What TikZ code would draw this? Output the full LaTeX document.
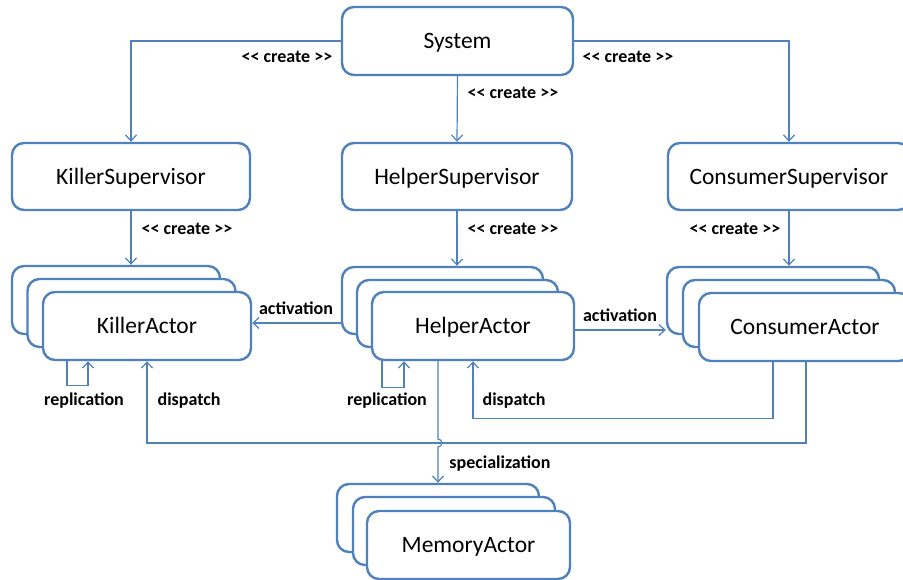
\documentclass[tikz,border=0pt]{standalone}
\usepackage{fontspec}
\setmainfont{Carlito}
\usetikzlibrary{arrows.meta,calc}
\definecolor{edge}{HTML}{4F81BD}
\newcommand{\createlbl}{<\kern0pt< create >\kern0pt>}

\begin{document}
\begin{tikzpicture}[x=1pt,y=-1pt,
  box/.style={draw=edge, line width=2.4pt, fill=white, rounded corners=12pt,
    inner sep=0pt, text height=15pt, text depth=0pt,
    font=\fontsize{23.5}{28}\selectfont},
  conn/.style={draw=edge, line width=1.2pt, line join=miter,
    -{Straight Barb[length=6pt,width=11pt,line width=1.2pt]}},
  lbl/.style={font=\fontsize{18}{21}\selectfont\bfseries, inner sep=0pt}]
\useasboundingbox (0,0) rectangle (903,579);

% top level
\node[box, minimum width=231pt, minimum height=68pt] (sys) at (457.5,41) {System};

% supervisors
\node[box, minimum width=238pt, minimum height=67pt] (ks) at (131,176.5) {KillerSupervisor};
\node[box, minimum width=230pt, minimum height=67pt] (hs) at (457,176.5) {HelperSupervisor};
\node[box, minimum width=242pt, minimum height=67pt] (cs) at (789,176.5) {ConsumerSupervisor};

% killer actors
\node[box, minimum width=208pt, minimum height=68pt] (kb) at (116,300) {};
\node[box, minimum width=208pt, minimum height=68pt] (km) at (131.5,313) {};
\node[box, minimum width=208pt, minimum height=68pt] (kf) at (147,326) {KillerActor};

% helper actors
\node[box, minimum width=201pt, minimum height=67pt] (hb) at (442.5,300.5) {};
\node[box, minimum width=201pt, minimum height=67pt] (hm) at (457.5,313.5) {};
\node[box, minimum width=202pt, minimum height=68pt] (hf) at (473,326) {HelperActor};

% consumer actors
\node[box, minimum width=212pt, minimum height=67pt] (cb) at (773,300.5) {};
\node[box, minimum width=212pt, minimum height=67pt] (cm) at (789,313.5) {};
\node[box, minimum width=212pt, minimum height=68pt] (cf) at (805,327) {ConsumerActor};

% memory actors
\node[box, minimum width=202pt, minimum height=68pt] (mb) at (438,518) {};
\node[box, minimum width=202pt, minimum height=68pt] (mm) at (454,531) {};
\node[box, minimum width=203pt, minimum height=68pt] (mf) at (468.5,545) {MemoryActor};

% creation
\draw[conn] (sys.west) -| (ks.north);
\draw[conn] (sys.east) -| (cs.north);
\draw[conn] (sys.south) -- (hs.north);
\draw[conn] (ks.south) -- (ks.south |- kb.north);
\draw[conn] (hs.south) -- (hs.south |- hb.north);
\draw[conn] (cs.south) -- (cs.south |- cb.north);

% activation
\coordinate (actL) at (0,323);
\coordinate (actR) at (0,330);
\draw[conn] (hb.west |- actL) -- (kf.east |- actL);
\draw[conn] (hf.east |- actR) -- (cb.west |- actR);

% replication
\draw[conn] ([xshift=-80pt]kf.south) -- ++(0,24) -| ([xshift=-59pt]kf.south);
\draw[conn] ([xshift=-91pt]hf.south) -- ++(0,26) -| ([xshift=-69pt]hf.south);

% dispatch
\coordinate (bus) at (0,443);
\draw[conn] ([xshift=1pt]cf.south) -- ([xshift=1pt]cf.south |- bus) -| (kf.south);
\draw[conn] ([xshift=-32pt]cf.south) -- ++(0,56) -| (hf.south);

% specialization, hopping over the dispatch bus
\coordinate (hop) at (mb.north |- bus);
\draw[conn] (mb.north |- hf.south) -- ([yshift=4pt]hop)
  arc[start angle=90, end angle=-90, radius=4pt] -- (mb.north);

% labels
\node[lbl] (c1) at (287,57) {\createlbl};
\node[lbl] (c2) at (513,93) {\createlbl};
\node[lbl] (c3) at (628,57) {\createlbl};
\node[lbl] (c4) at (187,229) {\createlbl};
\node[lbl] (c5) at (513,229) {\createlbl};
\node[lbl] (c6) at (735,229) {\createlbl};
\node[lbl] (a1) at (296,308) {activation};
\node[lbl] (a2) at (620,315) {activation};
\node[lbl] (r1) at (84,401) {replication};
\node[lbl] (r2) at (387,401) {replication};
\node[lbl] (d1) at (189,401) {dispatch};
\node[lbl] (d2) at (514,401) {dispatch};
\node[lbl] (sp) at (500,464) {specialization};
\end{tikzpicture}
\end{document}
